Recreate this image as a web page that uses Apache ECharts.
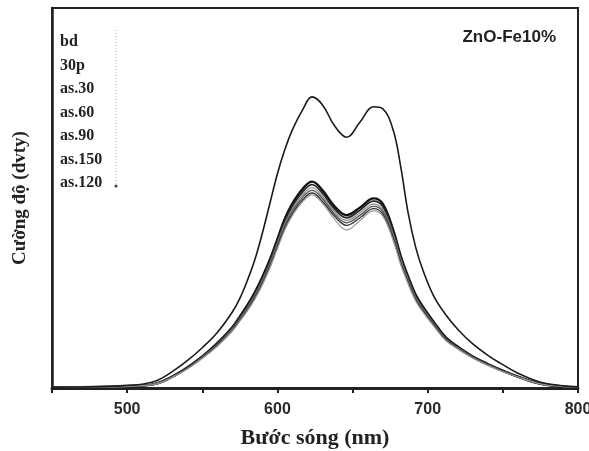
<!DOCTYPE html>
<html>
<head>
<meta charset="utf-8">
<script src="https://cdn.jsdelivr.net/npm/echarts@6/dist/echarts.min.js"></script>
<style>html,body{margin:0;padding:0;background:#fff;}#c{width:589px;height:451px;}</style>
</head>
<body>
<div id="c"></div>
<script>
const wavelengths = [450,470,490,500,510,520,530,540,550,560,570,575,580,585,590,595,600,605,610,617,623,630,638,646,655,664,670,677,682,687,692,697,704,712,721,730,740,748,760,775,790,800];
const seriesNames = ['bd','30p','as.30','as.60','as.90','as.150','as.120'];
const bd    = [0.2,0.3,0.5,0.7,1.0,2.0,4.3,7.2,10.6,14.6,20.0,23.6,28.3,33.8,40.8,48.6,56.4,62.8,68.0,73.4,76.6,74.5,69,66,70,74,73.5,67.9,58.3,46,37,30.8,24.2,19.3,15.0,11.6,8.6,6.6,3.9,1.5,0.6,0.3];
const s30p  = [0.2,0.2,0.3,0.4,0.6,1.2,3.0,5.4,8.3,11.8,16.0,18.8,21.8,25.2,29.2,33.8,39.2,44.6,48.6,52.5,54.3,52,47.8,45.5,47.5,49.9,48.5,41.6,34.8,29.3,24.5,21.3,17.4,13.3,10.6,8.3,6.3,4.9,3.0,1.1,0.4,0.2];
const as30  = [0.2,0.2,0.3,0.4,0.6,1.2,3.0,5.3,8.2,11.6,15.8,18.5,21.4,24.8,28.8,33.3,38.7,43.9,47.9,51.7,53.5,51.2,47.1,44.8,46.8,49.2,47.8,41.0,34.3,28.9,24.1,21.0,17.1,13.1,10.4,8.2,6.2,4.8,3.0,1.1,0.4,0.2];
const as60  = [0.2,0.2,0.3,0.4,0.6,1.2,2.9,5.2,8.1,11.4,15.5,18.2,21.1,24.4,28.3,32.8,38.1,43.3,47.1,50.9,52.7,50.4,46.4,44.1,46.1,48.4,47.0,40.4,33.8,28.4,23.8,20.7,16.9,12.9,10.3,8.1,6.1,4.8,2.9,1.1,0.4,0.2];
const as90  = [0.2,0.2,0.3,0.4,0.6,1.1,2.9,5.2,8.0,11.3,15.3,18.0,20.8,24.1,27.9,32.4,37.6,42.7,46.6,50.3,52.0,49.8,45.8,43.5,45.5,47.8,46.5,39.9,33.3,28.1,23.5,20.4,16.7,12.8,10.2,8.0,6.1,4.7,2.9,1.1,0.4,0.2];
const as150 = [0.2,0.2,0.3,0.4,0.6,1.1,2.8,5.1,7.9,11.2,15.1,17.8,20.5,23.7,27.5,31.9,37.1,42.1,45.9,49.6,51.3,49.1,45.2,42.8,44.8,47.2,45.8,39.3,32.9,27.7,23.2,20.2,16.5,12.7,10.1,8.0,6.0,4.7,2.9,1.1,0.4,0.2];
const as120 = [0.2,0.2,0.3,0.4,0.6,1.1,2.8,5.0,7.8,11.0,15.0,17.6,20.3,23.4,27.2,31.6,36.7,41.7,45.4,49.1,50.8,48.6,44.4,41.6,44.1,46.6,45.3,38.9,32.5,27.4,22.9,19.9,16.3,12.5,10.0,7.9,6.0,4.6,2.9,1.1,0.4,0.2];
const peakWavelengths = [623, 664];
const peakLabels = ['623', '660'];
const xTickLabels = [500, 600, 700, 800];
const chartTitle = 'ZnO-Fe10%';
const xName = 'Bước sóng (nm)';
const yName = 'Cường độ (dvty)';

const allValues = [bd, s30p, as30, as60, as90, as150, as120];
const styles = [
  {color:'#1a1a1a', width:1.6},
  {color:'#111111', width:2.4},
  {color:'#2a2a2a', width:1.8},
  {color:'#8a8a8a', width:1.2},
  {color:'#555555', width:1.4},
  {color:'#333333', width:1.4},
  {color:'#999999', width:1.2}
];

const series = allValues.map((vals, si) => ({
  name: seriesNames[si],
  type: 'line',
  smooth: 0.4,
  symbol: 'none',
  z: si === 0 ? 3 : 2,
  lineStyle: { color: styles[si].color, width: styles[si].width },
  itemStyle: { color: styles[si].color },
  data: wavelengths.map((w, i) => {
    const pi = si === 0 ? peakWavelengths.indexOf(w) : -1;
    if (pi >= 0) {
      return {
        value: [w, vals[i]],
        label: {
          show: true, position: 'top', distance: 4,
          formatter: peakLabels[pi],
          fontFamily: 'Liberation Sans', fontWeight: 'bold', fontSize: 10.5, color: '#222'
        }
      };
    }
    return [w, vals[i]];
  })
}));

const chart = echarts.init(document.getElementById('c'), null, {renderer: 'canvas'});
chart.setOption({
  backgroundColor: '#ffffff',
  animation: false,
  title: {
    text: chartTitle, right: 28, top: 24,
    textStyle: { fontFamily: 'Liberation Sans', fontWeight: 'bold', fontSize: 17, color: '#222' }
  },
  legend: {
    orient: 'vertical', left: 50, top: 29, itemGap: 7.5,
    itemWidth: 0, itemHeight: 0, icon: 'rect', selectedMode: false,
    data: seriesNames,
    textStyle: { fontFamily: 'Liberation Serif', fontWeight: 'bold', fontSize: 16, color: '#222' }
  },
  graphic: [
    { type: 'line', shape: { x1: 116, y1: 30, x2: 116, y2: 184 }, style: { stroke: '#aaa', lineWidth: 1, lineDash: [1, 2] } },
    { type: 'circle', shape: { cx: 116, cy: 186, r: 1.6 }, style: { fill: '#444' } }
  ],
  grid: { left: 52, right: 11, top: 8, bottom: 63, outerBoundsMode: 'none', containLabel: false, show: true, borderColor: '#222', borderWidth: 2 },
  xAxis: {
    type: 'value', min: 450, max: 800, interval: 50,
    name: xName, nameLocation: 'middle', nameGap: 39,
    nameTextStyle: { fontFamily: 'Liberation Serif', fontWeight: 'bold', fontSize: 22, color: '#222' },
    axisLine: { lineStyle: { color: '#222', width: 3 } },
    axisTick: { show: true, inside: false, length: 5, lineStyle: { color: '#222', width: 2 } },
    splitLine: { show: false },
    axisLabel: {
      margin: 14, fontFamily: 'Liberation Sans', fontWeight: 'bold', fontSize: 16, color: '#2a2a2a',
      formatter: v => (xTickLabels.indexOf(v) >= 0 ? String(v) : '')
    }
  },
  yAxis: {
    type: 'value', min: 0, max: 100,
    name: yName, nameLocation: 'middle', nameGap: 22,
    nameTextStyle: { fontFamily: 'Liberation Serif', fontWeight: 'bold', fontSize: 19, color: '#222' },
    axisLine: { show: true, lineStyle: { color: '#222', width: 2.5 } },
    axisTick: { show: false },
    axisLabel: { show: false },
    splitLine: { show: false }
  },
  series: series
});
</script>
</body>
</html>
